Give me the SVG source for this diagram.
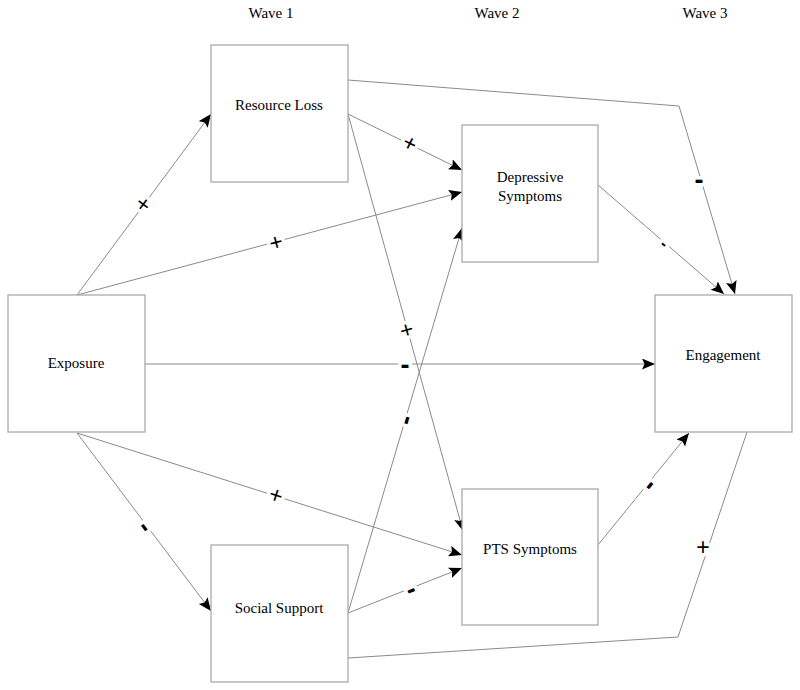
<svg xmlns="http://www.w3.org/2000/svg" width="800" height="690" viewBox="0 0 800 690">
<defs>
<marker id="arr" markerUnits="userSpaceOnUse" markerWidth="14" markerHeight="12" refX="13" refY="5.5" orient="auto">
<path d="M0,0 L13,5.5 L0,11 L2.5,5.5 z" fill="#000"/>
</marker>
<style>
.box{fill:#fff;stroke:#aaa;stroke-width:1.3}
.lbl{font-family:"Liberation Serif","Times New Roman",serif;font-size:15px;fill:#000;text-anchor:middle}
.wave{font-family:"Liberation Serif","Times New Roman",serif;font-size:15px;fill:#000;text-anchor:middle}
.c{fill:none;stroke:#8a8a8a;stroke-width:1}
.a{marker-end:url(#arr)}
.s{font-family:"Liberation Sans",Arial,sans-serif;font-size:23px;fill:#000;text-anchor:middle;paint-order:stroke;stroke:#fff;stroke-width:7;stroke-linejoin:round}
.m{font-family:"Liberation Sans",Arial,sans-serif;font-size:27px;font-weight:bold;fill:#000;text-anchor:middle;paint-order:stroke;stroke:#fff;stroke-width:7;stroke-linejoin:round}
</style>
</defs>
<rect width="800" height="690" fill="#fff"/>
<g id="headers">
<text class="wave" x="271" y="18">Wave 1</text>
<text class="wave" x="497" y="18">Wave 2</text>
<text class="wave" x="705" y="18">Wave 3</text>
</g>
<g id="connectors">
<line class="c a" x1="77" y1="295" x2="211" y2="114"/>
<line class="c a" x1="77" y1="295" x2="462" y2="192"/>
<line class="c a" x1="145" y1="364" x2="655" y2="364"/>
<line class="c a" x1="77" y1="433" x2="211" y2="611"/>
<line class="c a" x1="77" y1="433" x2="462" y2="555"/>
<line class="c a" x1="348" y1="114" x2="462" y2="170"/>
<line class="c a" x1="348" y1="114" x2="463" y2="531"/>
<polyline class="c a" points="348,80 679,106 735,294"/>
<line class="c a" x1="598" y1="185" x2="724" y2="294"/>
<line class="c a" x1="348" y1="613" x2="462" y2="228"/>
<line class="c a" x1="348" y1="613" x2="462" y2="568"/>
<line class="c a" x1="598" y1="545" x2="689" y2="433"/>
<polyline class="c" points="348,658 678,637 747,432"/>
<text class="s" transform="translate(143,204) rotate(-53)" y="8">+</text>
<text class="s" transform="translate(276,242) rotate(-15)" y="8">+</text>
<text class="m" transform="translate(405,366)" y="8">-</text>
<text class="m" transform="translate(145,527) rotate(53)" y="8">-</text>
<text class="s" transform="translate(276,495) rotate(18)" y="8">+</text>
<text class="s" transform="translate(410,143) rotate(26)" y="8">+</text>
<text class="s" transform="translate(407,330) rotate(75)" y="8">+</text>
<text class="m" transform="translate(699,181)" y="8">-</text>
<text class="m" style="font-size:16px" transform="translate(664,244) rotate(41)" y="5">-</text>
<text class="m" transform="translate(406,420) rotate(-73)" y="8">-</text>
<text class="m" transform="translate(411,590) rotate(-22)" y="8">-</text>
<text class="m" transform="translate(649,485) rotate(-51)" y="8">-</text>
<text class="s" transform="translate(703,547)" y="8">+</text>
</g>
<g id="exposure">
<rect class="box" x="8" y="295" width="137" height="137"/>
<text class="lbl" x="76" y="368">Exposure</text>
</g>
<g id="resource-loss">
<rect class="box" x="211" y="45" width="137" height="137"/>
<text class="lbl" x="279" y="110">Resource Loss</text>
</g>
<g id="depressive-symptoms">
<rect class="box" x="462" y="125" width="136" height="137"/>
<text class="lbl" x="530" y="182">Depressive</text>
<text class="lbl" x="530" y="201">Symptoms</text>
</g>
<g id="engagement">
<rect class="box" x="655" y="295" width="137" height="137"/>
<text class="lbl" x="723" y="360">Engagement</text>
</g>
<g id="pts-symptoms">
<rect class="box" x="462" y="489" width="136" height="136"/>
<text class="lbl" x="530" y="554">PTS Symptoms</text>
</g>
<g id="social-support">
<rect class="box" x="211" y="545" width="137" height="137"/>
<text class="lbl" x="279" y="613">Social Support</text>
</g>
</svg>
